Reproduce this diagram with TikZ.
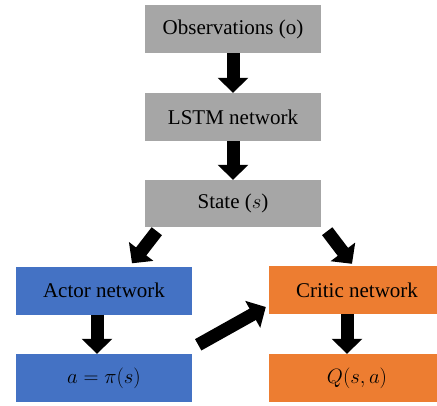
\documentclass[tikz,border=0pt]{standalone}
\usepackage{fontspec}
\setmainfont{Liberation Serif}
\usetikzlibrary{arrows.meta,calc}
\definecolor{boxgray}{HTML}{A6A6A6}
\definecolor{boxblue}{HTML}{4472C4}
\definecolor{boxorange}{HTML}{ED7D31}
\tikzset{
  blk/.style={rectangle, minimum width=176pt, minimum height=48pt, inner sep=0pt,
    font=\fontsize{21}{24}\selectfont, text=black},
  graybox/.style={blk, fill=boxgray},
  bluebox/.style={blk, fill=boxblue},
  orangebox/.style={blk, fill=boxorange},
  bigarrow/.style={line width=13pt, -{Triangle[width=30pt,length=15pt]}, black},
}
\begin{document}
\begin{tikzpicture}[x=1pt,y=-1pt]
\useasboundingbox (0,0) rectangle (437,405);
\fill[white] (0,0) rectangle (437,405);
\node[graybox] (obs) at (233,29) {Observations (o)};
\node[graybox] (lstm) at (233,117) {LSTM network};
\node[graybox, minimum height=47pt] (state) at (233,203.5) {State ($s$)};
\node[bluebox] (actor) at (104,290.5) {Actor network};
\node[bluebox] (act) at (104,378) {$a=\pi(s)$};
\node[orangebox] (critic) at (357,290) {Critic network};
\node[orangebox] (q) at (357,378) {$Q(s,a)$};

\draw[bigarrow] (obs.south) -- (lstm.north);
\draw[bigarrow] (lstm.south) -- (state.north);
\draw[bigarrow] ($(state.south west)+(12,4)$) -- ($(actor.north)+(28,-3)$);
\draw[bigarrow] ($(state.south east)+(6,4)$) -- ($(critic.north)+(-5,-2)$);
\draw[bigarrow] ($(actor.south)+(-7,0)$) -- ($(act.north)+(-7,0)$);
\draw[bigarrow] ($(critic.south)+(-10,0)$) -- ($(q.north)+(-10,0)$);
\draw[bigarrow] ($(act.north east)+(6,-9)$) -- ($(critic.west)+(-3,17)$);
\end{tikzpicture}
\end{document}
